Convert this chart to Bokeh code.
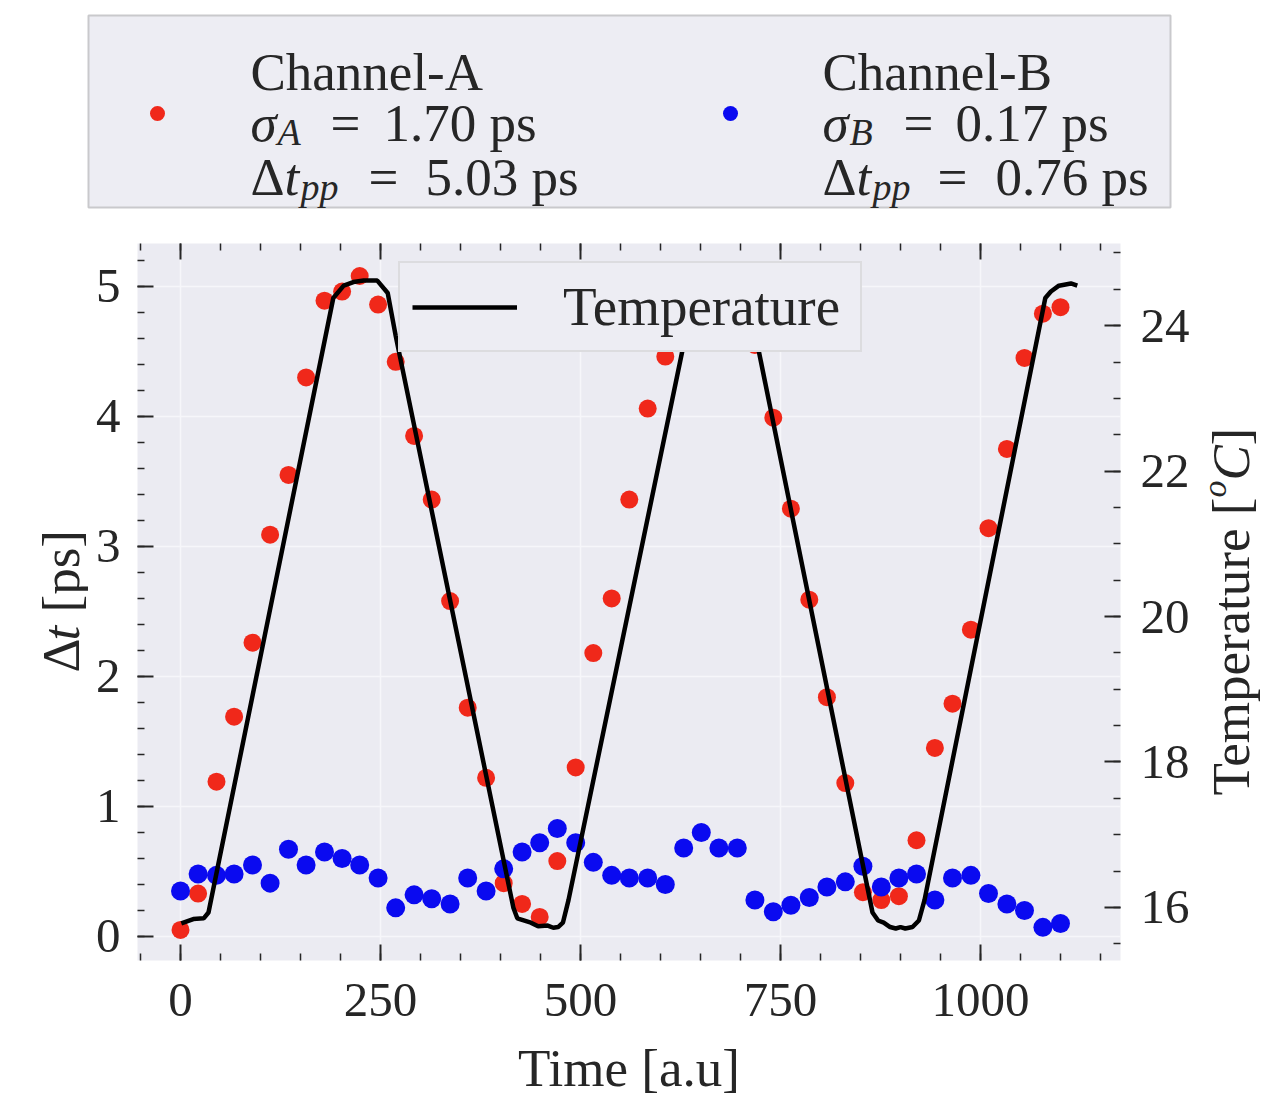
import math
from bokeh.plotting import figure
from bokeh.layouts import row
from bokeh.models import (Range1d, LinearAxis, SingleIntervalTicker, Legend, LegendItem,
                          Label, CustomJSTickFormatter)
from bokeh.embed import file_html
from bokeh.resources import INLINE

# ---- data ----------------------------------------------------------------
time_au = [0, 22, 45, 67, 90, 112, 135, 157, 180, 202,
           224, 247, 269, 292, 314, 337, 359, 382, 404, 427,
           449, 471, 494, 516, 539, 561, 584, 606, 629, 651,
           673, 696, 718, 741, 763, 786, 808, 831, 853, 876,
           898, 920, 943, 965, 988, 1010, 1033, 1055, 1078, 1100]

delta_t_a = [0.05, 0.33, 1.19, 1.69, 2.26, 3.09, 3.55, 4.30, 4.89, 4.96,
             5.08, 4.86, 4.42, 3.85, 3.36, 2.58, 1.76, 1.22, 0.41, 0.25,
             0.15, 0.58, 1.30, 2.18, 2.60, 3.36, 4.06, 4.46, 4.88, 5.00,
             5.05, 4.92, 4.55, 3.99, 3.29, 2.59, 1.84, 1.18, 0.34, 0.28,
             0.31, 0.74, 1.45, 1.79, 2.36, 3.14, 3.75, 4.45, 4.79, 4.84]

delta_t_b = [0.35, 0.48, 0.47, 0.48, 0.55, 0.41, 0.67, 0.55, 0.65, 0.60,
             0.55, 0.45, 0.22, 0.32, 0.29, 0.25, 0.45, 0.35, 0.52, 0.65,
             0.72, 0.83, 0.72, 0.57, 0.47, 0.45, 0.45, 0.40, 0.68, 0.80,
             0.68, 0.68, 0.28, 0.19, 0.24, 0.30, 0.38, 0.42, 0.54, 0.38,
             0.45, 0.48, 0.28, 0.45, 0.47, 0.33, 0.25, 0.20, 0.07, 0.10]

temp_time = [1, 16, 29, 35, 191, 204, 216, 229, 246, 259, 269,
             416, 421, 438, 447, 459, 466, 472, 478, 485,
             641, 654, 666, 679, 696, 709, 719,
             865, 872, 879, 887, 894, 900, 906, 915, 923, 930,
             1081, 1088, 1098, 1113, 1121]
temp_c = [15.78, 15.84, 15.85, 15.93, 24.38, 24.55, 24.60, 24.62, 24.62, 24.45, 23.86,
          16.00, 15.85, 15.79, 15.74, 15.75, 15.72, 15.73, 15.79, 16.10,
          24.38, 24.55, 24.60, 24.62, 24.62, 24.45, 23.86,
          15.93, 15.82, 15.79, 15.73, 15.71, 15.73, 15.71, 15.73, 15.82, 16.10,
          24.38, 24.47, 24.55, 24.58, 24.55]

sigma_a = "1.70"
sigma_b = "0.17"
pp_a = f"{max(delta_t_a) - min(delta_t_a):.2f}"
pp_b = f"{max(delta_t_b) - min(delta_t_b):.2f}"

# ---- style ---------------------------------------------------------------
SERIF = "Liberation Serif"
INK = "#262626"
RED = "#F0281A"
BLUE = "#0A0AF0"
PANEL = "#EBEBF2"

W, H = 1281, 1109
HEAD_H = 215
FRAME_L, FRAME_R, FRAME_T, FRAME_B = 137, 1120, 243, 960   # page pixels
LEFT_STRIP = 88        # width of the strip holding the left axis title
RIGHT_STRIP = 86       # width of the strip holding the right axis title
X_RANGE = (-53.75, 1175.0)
DT_RANGE = (-0.185, 5.33)
T_RANGE = (15.27, 25.13)


def add_text(fig, x, y, text, size=53, style="normal", angle=0.0):
    fig.add_layout(Label(x=x, y=y, text=text, angle=angle, angle_units="rad",
                         text_font=SERIF, text_font_size=f"{size}px",
                         text_font_style=style, text_color=INK,
                         text_align="left", text_baseline="alphabetic"))


def blank_figure(width, height, x_range, y_range, **kw):
    f = figure(x_range=x_range, y_range=y_range, output_backend="svg",
               toolbar_location=None, x_axis_location=None, y_axis_location=None,
               outline_line_color=None, background_fill_color="white",
               border_fill_color="white", **kw)
    if width is not None:
        f.width = width
        f.height = height
    f.grid.visible = False
    return f


# ---- header with the channel legend --------------------------------------
head = blank_figure(W, HEAD_H, Range1d(0, W), Range1d(HEAD_H, 0), min_border=0)
head.quad(left=[88], right=[1170], top=[15], bottom=[207],
          fill_color=PANEL, fill_alpha=0.9, line_color="#C9C9CC", line_width=2)
head.scatter(x=[157, 730], y=[113, 113], size=15, color=[RED, BLUE], line_color=None)

blocks = [
    # x0, name, subscript, sigma, pp, "=" x (row 2), value x (row 2), "=" x (row 3), value x (row 3)
    (250, "Channel-A", "A", sigma_a, pp_a, 330, 383, 368, 425),
    (822, "Channel-B", "B", sigma_b, pp_b, 903, 955, 937, 995),
]
for x0, name, sub, sig, pp, eq2, v2, eq3, v3 in blocks:
    add_text(head, x0, 71, name)
    add_text(head, x0, 122, "σ", style="italic")
    add_text(head, x0 + 27, 131, sub, size=38, style="italic")
    add_text(head, eq2, 122, "=")
    add_text(head, v2, 122, f"{sig} ps")
    add_text(head, x0, 176, "Δ")
    add_text(head, x0 + 34, 176, "t", style="italic")
    add_text(head, x0 + 50, 186, "pp", size=38, style="italic")
    add_text(head, eq3, 176, "=")
    add_text(head, v3, 176, f"{pp} ps")

# ---- main plot -----------------------------------------------------------
p = figure(frame_width=FRAME_R - FRAME_L, frame_height=FRAME_B - FRAME_T,
           min_border_left=FRAME_L - LEFT_STRIP, min_border_right=W - RIGHT_STRIP - FRAME_R,
           min_border_top=FRAME_T - HEAD_H, min_border_bottom=H - FRAME_B,
           x_range=Range1d(*X_RANGE), y_range=Range1d(*DT_RANGE),
           output_backend="svg", toolbar_location=None,
           background_fill_color=PANEL, border_fill_color="white",
           outline_line_color=None)
p.extra_y_ranges = {"temp": Range1d(*T_RANGE)}


def style_axis(ax, ticker, standoff):
    ax.ticker = ticker
    ax.axis_line_color = None
    ax.major_tick_in = 16
    ax.major_tick_out = 0
    ax.minor_tick_in = 7
    ax.minor_tick_out = 0
    ax.major_tick_line_color = INK
    ax.major_tick_line_width = 2
    ax.minor_tick_line_color = INK
    ax.minor_tick_line_width = 1.5
    ax.major_label_text_font = SERIF
    ax.major_label_text_font_size = "49px"
    ax.major_label_text_color = INK
    ax.major_label_standoff = standoff


xax = p.xaxis[0]
style_axis(xax, SingleIntervalTicker(interval=250, num_minor_ticks=5), 23)
xax.axis_label = "Time [a.u]"
xax.axis_label_text_font = SERIF
xax.axis_label_text_font_size = "53px"
xax.axis_label_text_font_style = "normal"
xax.axis_label_text_color = INK
xax.axis_label_standoff = 20

style_axis(p.yaxis[0], SingleIntervalTicker(interval=1, num_minor_ticks=5), 17)

top_axis = LinearAxis(formatter=CustomJSTickFormatter(code="return ''"))
style_axis(top_axis, SingleIntervalTicker(interval=250, num_minor_ticks=5), 0)
p.add_layout(top_axis, "above")

temp_axis = LinearAxis(y_range_name="temp")
style_axis(temp_axis, SingleIntervalTicker(interval=2, num_minor_ticks=4), 20)
p.add_layout(temp_axis, "right")

p.xgrid.ticker = SingleIntervalTicker(interval=250)
p.ygrid.ticker = SingleIntervalTicker(interval=1)
for g in (p.xgrid, p.ygrid):
    g.grid_line_color = "#F6F6FA"
    g.grid_line_width = 1.5

p.scatter(x=time_au, y=delta_t_a, size=18, color=RED, line_color=None)
p.scatter(x=time_au, y=delta_t_b, size=19, color=BLUE, line_color=None)
temp_line = p.line(x=temp_time, y=temp_c, y_range_name="temp", color="black", line_width=4.5)

legend = Legend(items=[LegendItem(label="Temperature", renderers=[temp_line])],
                location=(398 - FRAME_L, FRAME_B - 352),
                label_text_font=SERIF, label_text_font_size="55px", label_text_color=INK,
                glyph_width=105, glyph_height=40, label_standoff=46, padding=12,
                label_width=285, margin=0,
                background_fill_color="#EDEDF3", background_fill_alpha=1.0,
                border_line_color="#CBCBCB", border_line_width=2)
p.add_layout(legend)

# ---- side strips carrying the rotated axis titles (page-pixel coordinates) -
strip_kw = dict(frame_height=FRAME_B - FRAME_T, min_border_left=0, min_border_right=0,
                min_border_top=FRAME_T - HEAD_H, min_border_bottom=H - FRAME_B)
left_strip = blank_figure(None, None, Range1d(0, LEFT_STRIP), Range1d(FRAME_B, FRAME_T),
                          frame_width=LEFT_STRIP, **strip_kw)
right_strip = blank_figure(None, None, Range1d(W - RIGHT_STRIP, W), Range1d(FRAME_B, FRAME_T),
                           frame_width=RIGHT_STRIP, **strip_kw)

up = math.pi / 2
add_text(left_strip, 60, 672, "Δ", angle=up)
add_text(left_strip, 60, 640, "t", style="italic", angle=up)
add_text(left_strip, 60, 612, "[ps]", angle=up)

add_text(right_strip, 1230, 795, "Temperature [", angle=up)
add_text(right_strip, 1214, 497, "o", size=34, style="italic", angle=up)
add_text(right_strip, 1230, 480, "C", style="italic", angle=up)
add_text(right_strip, 1230, 445, "]", angle=up)

body = row(left_strip, p, right_strip, spacing=0)
open("out.html", "w").write(file_html([head, body], INLINE))
